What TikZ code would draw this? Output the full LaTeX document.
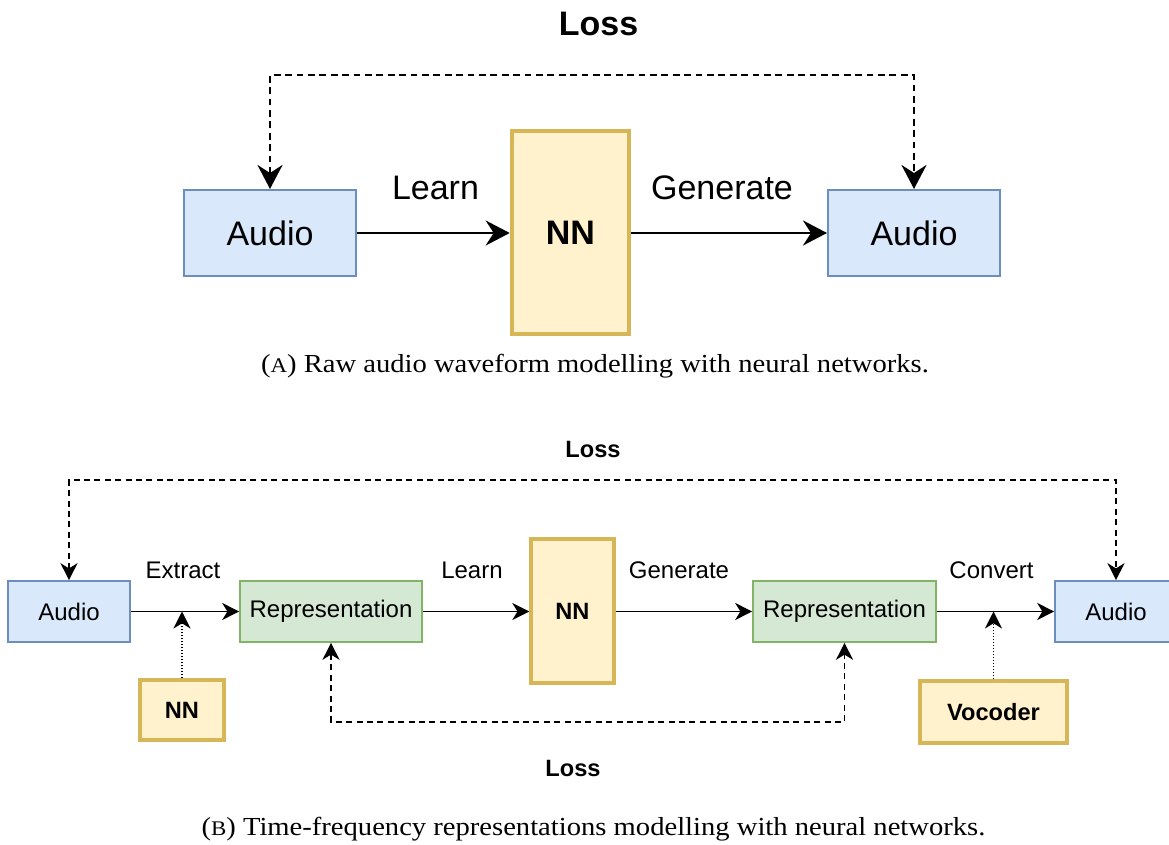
\documentclass[tikz,border=0pt]{standalone}
\usepackage{fontspec}
\setmainfont{Liberation Sans}
\newfontfamily\capfont{Liberation Serif}
\usetikzlibrary{arrows.meta}

\definecolor{audioFill}{HTML}{DAE8FC}
\definecolor{audioLine}{HTML}{6C8EBF}
\definecolor{nnFill}{HTML}{FFF2CC}
\definecolor{nnLine}{HTML}{D6B656}
\definecolor{repFill}{HTML}{D5E8D4}
\definecolor{repLine}{HTML}{82B366}

% small capital imitation for the sub-caption letters
\newcommand{\fakesc}[1]{{\fontsize{10.4pt}{11pt}\selectfont #1}}
\newcommand{\subcap}[1]{\scalebox{1.1}[1]{#1}}

\tikzset{
  bigtip/.tip={Stealth[length=12pt,width=12.5pt,inset=4pt]},
  smalltip/.tip={Stealth[length=8.5pt,width=8.5pt,inset=2.6pt]},
  boxbase/.style={rectangle, inner sep=0pt, text=black},
  audiobox/.style={boxbase, fill=audioFill, draw=audioLine},
  nnbox/.style={boxbase, fill=nnFill, draw=nnLine},
  repbox/.style={boxbase, fill=repFill, draw=repLine},
  bigfont/.style={font=\fontsize{17pt}{20pt}\selectfont},
  smallfont/.style={font=\fontsize{12pt}{14pt}\selectfont},
  bigbold/.style={font=\fontsize{17pt}{20pt}\selectfont\bfseries},
  smallbold/.style={font=\fontsize{11.8pt}{14pt}\selectfont\bfseries},
  lbl/.style={inner sep=0pt, anchor=center},
  flowA/.style={-bigtip, line width=1.3pt},
  lossA/.style={bigtip-bigtip, line width=1.3pt, dash pattern=on 3.4pt off 2.3pt},
  flowB/.style={-smalltip, line width=0.8pt},
  lossB/.style={smalltip-smalltip, line width=0.8pt, dash pattern=on 3pt off 2.2pt},
  helperB/.style={-smalltip, line width=0.8pt, dash pattern=on 0.8pt off 0.7pt},
  caption/.style={inner sep=0pt, font=\capfont\fontsize{13pt}{15pt}\selectfont}
}

\begin{document}
\begin{tikzpicture}[x=0.5pt, y=-0.5pt]
  \useasboundingbox (0,0) rectangle (1169,845);

  % ---------- (A) raw waveform pipeline ----------
  \node[audiobox, bigfont, line width=1pt, minimum width=86pt, minimum height=43pt]
    (audioA1) at (270,233) {Audio};
  \node[nnbox, bigbold, line width=2.3pt, minimum width=58.5pt, minimum height=101.5pt]
    (nnA) at (570.5,232.5) {NN};
  \node[audiobox, bigfont, line width=1pt, minimum width=86pt, minimum height=43pt]
    (audioA2) at (914,233) {Audio};

  \draw[flowA] (audioA1.east) -- (nnA.west |- audioA1.east);
  \draw[flowA] (nnA.east |- audioA2.west) -- (audioA2.west);

  \node[lbl, bigfont] (learnA) at (435.5,188) {Learn};
  \node[lbl, bigfont] (genA) at (722,188) {Generate};

  \coordinate (loopA) at (0,75);
  \draw[lossA] (audioA1.north) -- (audioA1.north |- loopA) -| (audioA2.north);
  \node[lbl, bigbold] (lossTopA) at (598.5,24) {Loss};

  \node[caption] (capA) at (595,366)
    {\subcap{(\fakesc{A}) Raw audio waveform modelling with neural networks.}};

  % ---------- (B) time-frequency pipeline ----------
  \node[audiobox, smallfont, line width=0.8pt, minimum width=61pt, minimum height=30.5pt]
    (audioB1) at (69,611.5) {Audio};
  \node[repbox, smallfont, line width=0.8pt, minimum width=91pt, minimum height=30.5pt]
    (repB1) at (331,611.5) {Representation};
  \node[nnbox, smallbold, line width=1.7pt, minimum width=41.5pt, minimum height=72pt]
    (nnB) at (572.5,611) {NN};
  \node[repbox, smallfont, line width=0.8pt, minimum width=91.5pt, minimum height=30.5pt]
    (repB2) at (844.5,611.5) {Representation};
  \node[audiobox, smallfont, line width=0.8pt, minimum width=61pt, minimum height=30.5pt]
    (audioB2) at (1116,611.5) {Audio};

  \node[nnbox, smallbold, line width=1.7pt, minimum width=42pt, minimum height=30pt]
    (nnSmall) at (182,710) {NN};
  \node[nnbox, smallbold, line width=1.7pt, minimum width=73.5pt, minimum height=31pt]
    (vocoder) at (993.5,712) {Vocoder};

  \draw[flowB] (audioB1.east) -- (repB1.west);
  \draw[flowB] (repB1.east) -- (nnB.west |- repB1.east);
  \draw[flowB] (nnB.east |- repB2.west) -- (repB2.west);
  \draw[flowB] (repB2.east) -- (audioB2.west);

  \coordinate (extractPt) at (nnSmall.north |- audioB1.east);
  \coordinate (convertPt) at (vocoder.north |- audioB2.west);
  \draw[helperB] (nnSmall.north) -- (extractPt);
  \draw[helperB] (vocoder.north) -- (convertPt);

  \node[lbl, smallfont] (extractB) at (183,570) {Extract};
  \node[lbl, smallfont] (learnB) at (472,570) {Learn};
  \node[lbl, smallfont] (genB) at (679,570) {Generate};
  \node[lbl, smallfont] (convB) at (991.5,570) {Convert};

  \coordinate (loopBtop) at (0,480);
  \coordinate (loopBbot) at (0,722);
  \draw[lossB] (audioB1.north) -- (audioB1.north |- loopBtop) -| (audioB2.north);
  \draw[lossB] (repB1.south) -- (repB1.south |- loopBbot) -| (repB2.south);

  \node[lbl, smallbold] (lossTopB) at (593,449) {Loss};
  \node[lbl, smallbold] (lossBotB) at (573,768) {Loss};

  \node[caption] (capB) at (593.5,829)
    {\subcap{(\fakesc{B}) Time-frequency representations modelling with neural networks.}};
\end{tikzpicture}
\end{document}
